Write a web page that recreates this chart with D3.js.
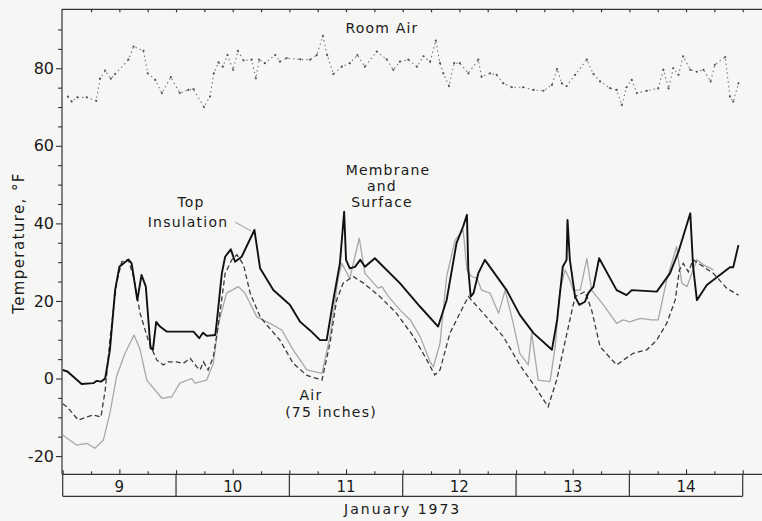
<!DOCTYPE html>
<html>
<head>
<meta charset="utf-8">
<script src="https://cdn.jsdelivr.net/npm/d3@7"></script>
<style>
  html, body { margin: 0; padding: 0; background: #f6f6f4; }
  svg { display: block; }
  text { font-family: "DejaVu Sans", sans-serif; fill: #1a1a1a; }
</style>
</head>
<body>
<svg id="chart" width="762" height="521"></svg>
<script>
// hours counted from 00:00, January 9 1973
const days = [9, 10, 11, 12, 13, 14];
const yTickValues = [-20, 0, 20, 40, 60, 80];

const roomAirHours = [1.1, 1.9, 3.1, 5.1, 7.1, 7.9, 9.0, 10.2, 11.1, 13.9, 15.0, 17.1, 18.0, 19.6, 21.0, 22.9,
  24.8, 26.6, 27.7, 29.9, 31.2, 32.0, 33.0, 33.9, 34.9, 36.1, 37.1, 38.3, 40.0, 40.9, 41.6, 42.8, 45.0, 46.0,
  47.4, 50.3, 52.4, 53.8, 55.1, 56.0, 57.3, 59.1, 60.8, 62.4, 64.0, 66.5, 68.6, 70.0, 71.4, 73.2, 75.0, 76.4,
  77.8, 79.0, 79.9, 80.6, 81.8, 82.9, 84.1, 85.9, 88.0, 88.7, 90.5, 91.9, 93.3, 95.1, 97.5, 99.7, 101.8, 103.6,
  104.7, 105.7, 106.7, 108.5, 111.0, 112.4, 113.8, 115.9, 117.3, 118.4, 119.4, 120.5, 121.6, 123.7, 126.1,
  127.2, 128.3, 129.3, 130.4, 131.4, 132.9, 134.3, 135.7, 137.2, 138.1, 140.3, 141.3, 142.0, 143.1];
const roomAirTemp = [72.7, 71.4, 72.5, 72.5, 71.6, 77.3, 79.4, 77.3, 78.5, 82.2, 85.6, 84.5, 78.7, 77.0, 73.6, 77.7,
  73.6, 74.4, 74.6, 70.0, 72.7, 78.7, 81.5, 80.4, 83.4, 79.6, 84.5, 82.0, 82.2, 77.4, 82.2, 81.3, 83.4, 81.7,
  82.6, 82.3, 82.2, 83.4, 88.3, 83.4, 78.5, 80.4, 81.3, 83.4, 80.4, 84.3, 82.3, 79.6, 81.7, 82.2, 80.4, 83.1,
  81.7, 87.1, 81.3, 78.7, 75.4, 81.3, 81.3, 78.7, 82.2, 77.8, 78.7, 78.3, 76.1, 75.1, 75.1, 74.4, 74.2, 75.7,
  79.8, 76.1, 75.4, 78.3, 82.2, 78.5, 76.6, 74.9, 74.4, 70.5, 75.1, 77.0, 73.6, 74.2, 74.8,
  79.6, 74.8, 80.0, 78.3, 83.1, 79.6, 79.1, 79.6, 76.6, 80.9, 82.9, 72.7, 71.4, 76.1];

const topInsulationHours = [0.0, 1.0, 2.2, 4.0, 6.5, 7.2, 8.1, 9.0, 10.0, 11.1, 12.0, 13.9, 14.6, 15.8, 16.7, 17.6,
  18.6, 19.1, 19.8, 20.6, 22.0, 27.7, 28.9, 29.7, 30.5, 32.3, 32.6, 33.7, 34.4, 35.6, 36.5, 37.9, 40.6, 41.8,
  44.6, 48.1, 50.3, 52.4, 54.5, 55.9, 57.3, 58.7, 59.6, 60.0, 60.8, 61.9, 63.0, 64.0, 66.1, 71.4, 75.7, 79.5,
  81.3, 83.4, 84.8, 85.6, 85.9, 86.4, 87.0, 88.0, 89.4, 94.0, 96.8, 99.7, 103.6, 104.7, 105.9, 106.7, 106.9,
  107.4, 108.1, 108.5, 109.4, 110.6, 111.3, 112.4, 113.6, 117.3, 119.4, 120.5, 125.8, 128.6, 130.4, 132.9,
  133.5, 134.3, 136.4, 141.3, 142.0, 143.1];
const topInsulationTemp = [2.2, 1.8, 0.5, -1.4, -1.2, -0.6, -0.8, 0.0, 7.4, 22.8, 28.8, 30.7, 29.7, 20.2, 26.7, 23.7,
  7.8, 7.4, 14.6, 13.4, 12.1, 12.1, 10.4, 11.8, 11.0, 11.2, 14.2, 27.1, 31.4, 33.3, 30.1, 31.4, 38.3, 28.4,
  22.8, 19.0, 14.6, 12.4, 9.9, 9.9, 20.2, 29.7, 43.0, 30.6, 28.4, 28.8, 30.6, 28.8, 31.0, 24.6, 18.5, 13.4,
  20.2, 34.9, 39.2, 42.2, 28.0, 21.1, 22.0, 27.1, 30.6, 22.8, 16.4, 11.7, 7.4, 15.1, 28.8, 30.6, 40.9,
  30.6, 24.6, 21.1, 19.0, 19.8, 22.0, 23.7, 31.0, 22.8, 21.5, 22.8, 22.4, 27.1, 32.7, 42.6,
  28.8, 20.2, 24.1, 28.7, 28.7, 34.4];

const airHours = [0.0, 0.9, 3.3, 5.1, 6.5, 8.1, 9.0, 10.0, 11.4, 12.5, 13.9, 15.0, 16.4, 18.1, 19.9, 21.3, 22.4,
  24.1, 25.5, 27.0, 28.4, 29.1, 29.8, 30.8, 31.9, 33.0, 34.4, 35.8, 36.9, 38.3, 39.7, 41.8, 43.5, 46.0, 48.8,
  51.7, 54.9, 56.6, 58.0, 59.4, 61.5, 63.7, 67.2, 70.7, 74.3, 77.1, 78.8, 79.9, 82.0, 84.8, 85.9, 89.1, 93.3,
  96.8, 99.7, 102.8, 104.6, 107.4, 108.5, 110.6, 112.0, 113.8, 117.3, 120.8, 123.7, 125.8, 127.9, 129.7,
  130.6, 131.4, 132.5, 133.5, 135.7, 137.8, 140.6, 143.1];
const airTemp = [-6.5, -7.3, -10.7, -9.9, -9.4, -9.9, -3.0, 9.9, 24.6, 30.1, 30.6, 26.3, 16.8, 9.9, 4.8, 3.5, 4.3,
  4.3, 3.9, 5.2, 3.0, 2.2, 4.3, 2.2, 5.6, 14.2, 27.1, 30.6, 31.9, 29.3, 22.0, 15.9, 13.4, 9.9, 3.9,
  0.8, -0.4, 9.1, 20.2, 24.6, 26.3, 24.6, 21.1, 16.8, 10.8, 4.8, 0.9, 2.2, 11.7, 18.5, 21.1, 16.8, 10.8,
  3.5, -1.5, -7.3, -0.4, 15.1, 21.1, 22.4, 17.7, 8.2, 3.5, 6.5, 7.4, 9.9, 14.2, 20.2,
  28.0, 29.7, 27.5, 30.6, 28.8, 27.1, 23.3, 21.5];

const membraneHours = [0.0, 0.5, 3.0, 5.1, 6.8, 8.6, 10.0, 11.4, 13.2, 15.1, 16.4, 17.8, 21.0, 23.1, 24.8, 27.3,
  28.0, 30.5, 31.9, 33.0, 34.7, 37.2, 38.6, 41.1, 43.9, 46.4, 48.8, 51.7, 54.9, 56.6, 58.4, 59.1, 60.8, 62.8,
  64.0, 66.8, 67.6, 69.0, 71.4, 73.6, 75.7, 77.8, 78.5, 79.9, 81.3, 83.1, 84.8, 85.6, 86.6, 87.7, 88.7, 90.5,
  92.3, 93.7, 95.4, 96.8, 98.6, 99.3, 100.7, 103.2, 104.3, 105.3, 106.4, 107.4, 108.1, 109.6, 111.0, 112.0,
  114.5, 117.3, 118.7, 120.1, 122.3, 124.7, 126.1, 127.9, 130.0, 131.1, 132.2, 134.3, 135.7, 137.8];
const membraneTemp = [-14.5, -15.0, -17.2, -16.7, -18.0, -15.9, -9.0, 0.5, 6.5, 11.2, 7.4, -0.4, -5.1, -4.7, -1.2, 0.0,
  -1.2, -0.4, 3.9, 14.2, 22.0, 23.7, 22.0, 15.9, 14.2, 12.5, 7.4, 2.2, 1.3, 10.8, 26.3, 29.7, 25.8, 36.2,
  27.1, 23.3, 23.7, 21.1, 17.7, 15.1, 10.8, 4.3, 3.0, 9.1, 26.3, 35.7, 38.3, 28.0, 26.3, 25.8, 22.8, 22.0,
  16.8, 22.8, 14.2, 6.5, 3.5, 11.7, -0.4, -0.8, 8.2, 22.8, 28.0, 25.4, 22.8, 22.8, 31.0, 22.8,
  19.0, 14.2, 15.1, 14.6, 15.5, 15.1, 15.1, 25.4, 34.0, 24.6, 23.7, 30.6, 29.3, 28.0];

const svg = d3.select('#chart');

const x = d3.scaleLinear().domain([0, 144]).range([62.7, 742.7]);
const y = d3.scaleLinear().domain([-24.7, 95.2]).range([474.3, 9.3]);

const plotLeft = 62, plotRight = 762, plotTop = 9.3, plotBottom = 474.3, bandBottom = 496.3;

// frame lines
svg.append('line').attr('x1', plotLeft).attr('x2', plotRight).attr('y1', plotTop).attr('y2', plotTop)
  .attr('stroke', '#333').attr('stroke-width', 1.2);
svg.append('line').attr('x1', plotLeft).attr('x2', plotLeft).attr('y1', plotTop).attr('y2', plotBottom)
  .attr('stroke', '#333').attr('stroke-width', 1.2);
svg.append('line').attr('x1', plotLeft).attr('x2', plotRight).attr('y1', plotBottom).attr('y2', plotBottom)
  .attr('stroke', '#333').attr('stroke-width', 1.2);

// left axis, minor ticks every 5
let yAxis = d3.axisLeft(y)
  .tickValues(d3.range(-20, 95, 5))
  .tickSize(5)
  .tickPadding(3)
  .tickFormat(d => yTickValues.includes(d) ? d : '');
let gy = svg.append('g').attr('transform', `translate(${plotLeft},0)`).call(yAxis);
gy.select('.domain').remove();
gy.selectAll('line').attr('stroke', '#333').attr('stroke-width', 1.1)
  .attr('x2', d => yTickValues.includes(d) ? -6 : -4);
gy.selectAll('text').style('font-size', '16px').style('font-family', '"DejaVu Sans", sans-serif')
  .attr('fill', '#1a1a1a');

// top ticks (every 6 hours), pointing down
let topAxis = d3.axisBottom(x).tickValues(d3.range(6, 145, 6)).tickSize(3).tickFormat('');
let gt = svg.append('g').attr('transform', `translate(0,${plotTop})`).call(topAxis);
gt.select('.domain').remove();
gt.selectAll('line').attr('stroke', '#333').attr('stroke-width', 1.2);

// bottom ticks pointing up: day marks, noon and quarter days
let bottomAxis = d3.axisTop(x).tickValues(d3.range(0, 145, 6)).tickFormat('')
  .tickSize(3);
let gb = svg.append('g').attr('transform', `translate(0,${plotBottom})`).call(bottomAxis);
gb.select('.domain').remove();
gb.selectAll('line').attr('stroke', '#333').attr('stroke-width', 1.1)
  .attr('y2', d => d % 24 === 0 ? -4 : (d % 12 === 0 ? -5 : -3));

// day band under the axis
const band = svg.append('g');
band.append('line').attr('x1', x(0)).attr('x2', x(144)).attr('y1', bandBottom).attr('y2', bandBottom)
  .attr('stroke', '#333').attr('stroke-width', 1.2);
band.selectAll('.sep').data(d3.range(0, 7)).join('line')
  .attr('x1', d => x(d * 24)).attr('x2', d => x(d * 24))
  .attr('y1', plotBottom).attr('y2', bandBottom)
  .attr('stroke', '#333').attr('stroke-width', 1.2);
band.selectAll('.day').data(days).join('text')
  .attr('x', (d, i) => x(i * 24 + 12))
  .attr('y', 492)
  .attr('text-anchor', 'middle')
  .style('font-size', '15px')
  .text(d => d);

svg.append('text').attr('x', x(72)).attr('y', 514).attr('text-anchor', 'middle')
  .style('font-size', '14px').style('letter-spacing', '2px')
  .text('January  1973');

svg.append('text')
  .attr('transform', 'translate(24,243) rotate(-90)')
  .attr('text-anchor', 'middle')
  .style('font-size', '15px').style('letter-spacing', '1.4px')
  .text('Temperature, °F');

// series
const line = d3.line().x(d => x(d[0])).y(d => y(d[1]));
const pairs = (hs, vs) => hs.map((h, i) => [h, vs[i]]);

svg.append('path').datum(pairs(membraneHours, membraneTemp))
  .attr('d', line).attr('fill', 'none')
  .attr('stroke', '#a8a8a8').attr('stroke-width', 1.3).attr('stroke-linejoin', 'round');

svg.append('path').datum(pairs(airHours, airTemp))
  .attr('d', line).attr('fill', 'none')
  .attr('stroke', '#3a3a3a').attr('stroke-width', 1.3)
  .attr('stroke-dasharray', '5,3');

svg.append('path').datum(pairs(topInsulationHours, topInsulationTemp))
  .attr('d', line).attr('fill', 'none')
  .attr('stroke', '#111').attr('stroke-width', 1.9).attr('stroke-linejoin', 'round');

let room = pairs(roomAirHours, roomAirTemp);
svg.append('path').datum(room)
  .attr('d', line).attr('fill', 'none')
  .attr('stroke', '#777').attr('stroke-width', 1.1)
  .attr('stroke-dasharray', '1.5,3');
svg.selectAll('.room-dot').data(room).join('circle')
  .attr('cx', d => x(d[0])).attr('cy', d => y(d[1])).attr('r', 1.1)
  .attr('fill', '#555');

// annotations
const note = (tx, ty, str) => svg.append('text').attr('x', tx).attr('y', ty)
  .attr('text-anchor', 'middle').style('font-size', '14px').style('letter-spacing', '1.2px').text(str);

note(382, 33, 'Room Air');
note(191, 207, 'Top');
note(188, 227, 'Insulation');
note(388, 175, 'Membrane');
note(382, 191, 'and');
note(382, 207, 'Surface');
note(311, 400, 'Air');
note(331, 417, '(75 inches)');

svg.append('line').attr('x1', 235).attr('y1', 222).attr('x2', 251).attr('y2', 231)
  .attr('stroke', '#999').attr('stroke-width', 1);
</script>
</body>
</html>
